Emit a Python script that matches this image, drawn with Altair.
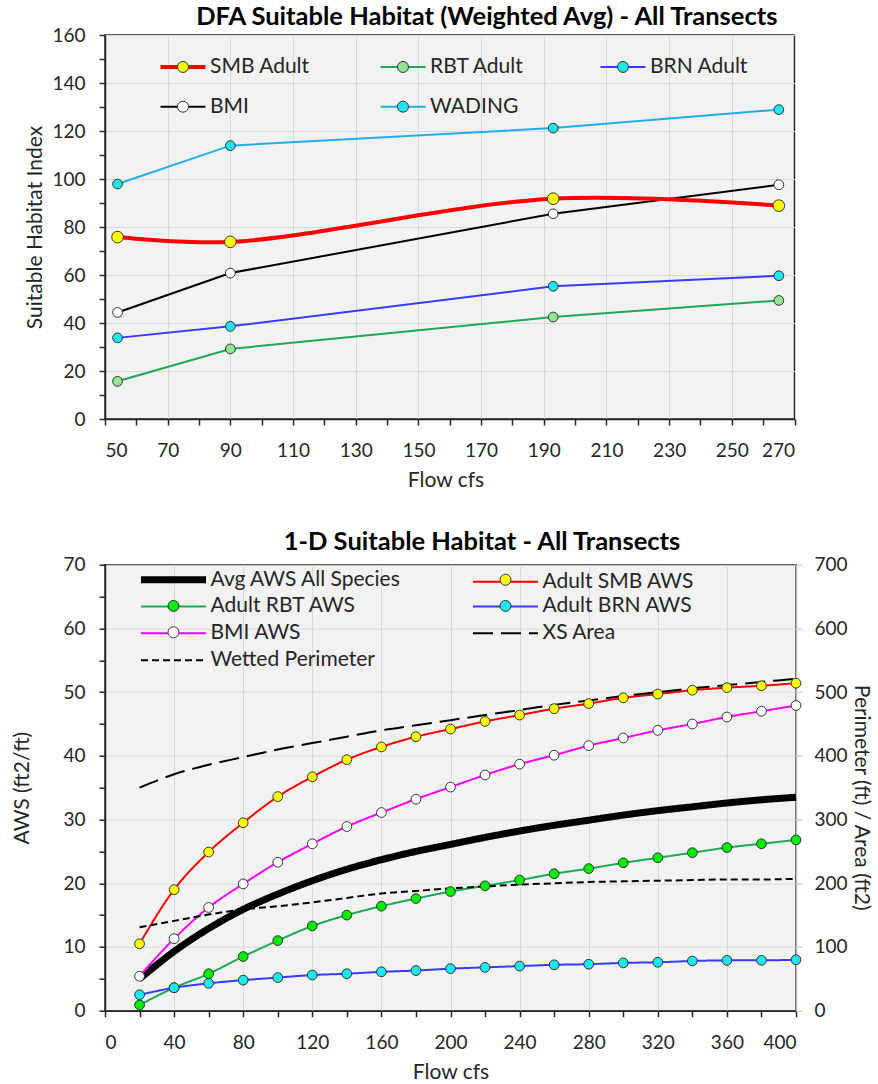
import altair as alt
import pandas as pd

FONT = "Lato"
INK = "#262626"
GRID = "#d9d9d9"
TICK_FS = 19
LEG_FS = 21
AXT_FS = 21
TITLE_FS = 25.5

# ---------------- DFA suitable habitat (weighted average) ----------------
dfa_flow = [54, 90, 193, 265]
dfa_names = ["SMB Adult", "RBT Adult", "BRN Adult", "BMI", "WADING"]
dfa_smb = [75.8, 73.8, 91.8, 88.9]
dfa_rbt = [15.7, 29.2, 42.5, 49.4]
dfa_brn = [33.8, 38.6, 55.3, 59.7]
dfa_bmi = [44.4, 60.8, 85.5, 97.6]
dfa_wading = [97.9, 113.9, 121.2, 128.9]
dfa_line_colors = ["#ff0000", "#1fa855", "#3a3aff", "#000000", "#22aee8"]
dfa_line_widths = [4, 2, 2, 2, 2]
dfa_marker_fill = ["#ffff00", "#8fe88f", "#1ee6ee", "#ffffff", "#1ee6ee"]
# legend entries are laid out column by column (2 rows x 3 columns)
dfa_legend_order = ["SMB Adult", "BMI", "RBT Adult", "WADING", "BRN Adult"]

# ---------------- 1-D suitable habitat ----------------
aws_flow = list(range(20, 401, 20))
aws_names = ["Avg AWS All Species", "Adult SMB AWS", "Adult RBT AWS",
             "Adult BRN AWS", "BMI AWS", "XS Area", "Wetted Perimeter"]
aws_avg = [5.0, 9.3, 12.9, 15.9, 18.3, 20.4, 22.2, 23.7, 25.0, 26.1,
           27.2, 28.2, 29.1, 29.9, 30.7, 31.4, 32.0, 32.6, 33.1, 33.5]
aws_smb = [10.5, 19.0, 24.9, 29.5, 33.6, 36.7, 39.4, 41.4, 43.0, 44.2,
           45.4, 46.4, 47.4, 48.2, 49.1, 49.7, 50.3, 50.7, 51.0, 51.4]
aws_rbt = [0.9, 3.6, 5.8, 8.5, 11.0, 13.3, 15.0, 16.4, 17.6, 18.7,
           19.6, 20.5, 21.5, 22.3, 23.2, 24.0, 24.8, 25.6, 26.2, 26.8]
aws_brn = [2.5, 3.6, 4.3, 4.8, 5.2, 5.6, 5.8, 6.1, 6.3, 6.6,
           6.8, 7.0, 7.2, 7.3, 7.5, 7.6, 7.8, 7.9, 7.9, 8.0]
aws_bmi = [5.4, 11.3, 16.2, 19.9, 23.3, 26.2, 28.9, 31.1, 33.2, 35.1,
           37.0, 38.7, 40.1, 41.6, 42.8, 44.0, 45.0, 46.1, 47.0, 47.9]
xs_area = [350, 371, 386, 398, 410, 420, 430, 440, 448, 456,
           464, 472, 480, 487, 494, 500, 506, 511, 516, 521]
wetted_perim = [131, 141, 151, 159, 164, 170, 177, 184, 188, 192,
                195, 198, 200, 202, 203, 204, 205, 206, 206, 207]
aws_line_colors = ["#000000", "#ff0000", "#1fa855", "#3a3aff", "#ff00ff", "#000000", "#000000"]
aws_line_widths = [7, 2, 2, 2, 2, 2, 2]
aws_line_dash = [[1, 0], [1, 0], [1, 0], [1, 0], [1, 0], [20, 8], [7, 4]]
aws_marker_fill = ["#ffffff", "#ffff00", "#00ee00", "#1ee6ee", "#ffffff", "#ffffff", "#ffffff"]
aws_marker_show = [0, 1, 1, 1, 1, 0, 0]
# legend entries are laid out column by column (4 rows x 2 columns)
aws_legend_order = ["Avg AWS All Species", "Adult RBT AWS", "BMI AWS", "Wetted Perimeter",
                    "Adult SMB AWS", "Adult BRN AWS", "XS Area"]


def long_table(names, xs, columns):
    rows = []
    for name, vals in zip(names, columns):
        for x, v in zip(xs, vals):
            rows.append({"flow": x, "value": v, "series": name})
    return pd.DataFrame(rows)


def reorder(order, names, values):
    lookup = dict(zip(names, values))
    return [lookup[n] for n in order]


dfa = long_table(dfa_names, dfa_flow, [dfa_smb, dfa_rbt, dfa_brn, dfa_bmi, dfa_wading])
aws = long_table(aws_names[:5], aws_flow, [aws_avg, aws_smb, aws_rbt, aws_brn, aws_bmi])
geom = long_table(aws_names[5:], aws_flow, [xs_area, wetted_perim])
aws_pts = aws[aws["series"] != "Avg AWS All Species"]

# ---------------- legend symbols (line + marker drawn as two stacked legends) ----------------
SYM_SIZE = 36
K = (SYM_SIZE ** 0.5) / 2  # path units -> px


def seg_path(length_px):
    h = length_px / 2 / K
    return f"M{-h:.3f},0L{h:.3f},0"


def dot_path(radius_px):
    r = radius_px / K
    return (f"M{-r:.3f},0A{r:.3f},{r:.3f},0,1,1,{r:.3f},0"
            f"A{r:.3f},{r:.3f},0,1,1,{-r:.3f},0Z")


def legend(path, x, y, cols, sym_off, lab_off, col_pad, row_pad, labels, z, **extra):
    return alt.Legend(
        title=None, orient="none", legendX=x, legendY=y, columns=cols,
        symbolType=path, symbolSize=SYM_SIZE, symbolOffset=sym_off,
        labelOffset=lab_off, columnPadding=col_pad, rowPadding=row_pad,
        gridAlign="all", padding=0, labelFont=FONT, labelFontSize=LEG_FS,
        labelColor=INK, labelOpacity=1 if labels else 0, labelLimit=400,
        zindex=z, **extra)


def cond(test, a, b):
    return {"condition": {"test": test, "value": a}, "value": b}


def axis(values, start, label_every, grid_every, **kw):
    args = dict(
        values=values,
        labelExpr=f"(datum.value - {start}) % {label_every} === 0 ? datum.label : ''",
        gridOpacity=cond(f"(datum.value - {start}) % {grid_every} === 0", 1, 0),
        gridColor=GRID, gridWidth=1, tickSize=6, tickColor=INK, tickWidth=1.5,
        domainColor=INK, domainWidth=1.5, labelFont=FONT, labelFontSize=TICK_FS,
        labelColor=INK, titleFont=FONT, titleFontSize=AXT_FS, titleColor=INK,
        titleFontWeight="normal", labelOverlap=False,
    )
    args.update(kw)
    return alt.Axis(**args)


# ---------------- top panel ----------------
top_x = alt.X("flow:Q", scale=alt.Scale(domain=[50, 270], nice=False, zero=False),
              axis=axis(list(range(50, 271, 10)), 50, 20, 20, title="Flow cfs",
                        labelPadding=16.5, titlePadding=9, titleX=340.5))
top_y = alt.Y("value:Q", scale=alt.Scale(domain=[0, 160], nice=False),
              axis=axis(list(range(0, 161, 10)), 0, 20, 20, title="Suitable Habitat Index",
                        labelPadding=14, titleX=-69.5, titleBaseline="middle"))

top_line_leg = legend(seg_path(45), 49.5, 21.2, 3, 18, 16.5, 64, 18, True, 1)
top_dot_leg = legend(dot_path(5.5), 49.5, 21.2, 3, 18, 16.5, 64, 18, False, 2,
                     symbolStrokeColor="#333333", symbolStrokeWidth=1)

top_stroke = alt.Stroke("series:N", scale=alt.Scale(
    domain=dfa_legend_order,
    range=reorder(dfa_legend_order, dfa_names, dfa_line_colors)), legend=top_line_leg)
top_width = alt.StrokeWidth("series:N", scale=alt.Scale(
    type="ordinal", domain=dfa_legend_order,
    range=reorder(dfa_legend_order, dfa_names, dfa_line_widths)), legend=top_line_leg)
dot_domain = dfa_legend_order + [" "]
top_fill = alt.Fill("series:N", scale=alt.Scale(
    domain=dot_domain,
    range=reorder(dfa_legend_order, dfa_names, dfa_marker_fill) + ["#ffffff"]),
    legend=top_dot_leg)
top_opac = alt.Opacity("series:N", scale=alt.Scale(
    type="ordinal", domain=dot_domain, range=[1, 1, 1, 1, 1, 0]), legend=top_dot_leg)

top_base = alt.Chart(dfa)
top_lines = top_base.transform_filter("datum.series != 'SMB Adult'").mark_line().encode(
    x=top_x, y=top_y, stroke=top_stroke, strokeWidth=top_width)
top_smb = top_base.transform_filter("datum.series == 'SMB Adult'").mark_line(
    interpolate="catmull-rom").encode(x=top_x, y=top_y, stroke=top_stroke, strokeWidth=top_width)
top_pts = top_base.mark_circle(stroke="#333333", strokeWidth=1).encode(
    x=top_x, y=top_y, fill=top_fill, opacity=top_opac,
    size=alt.condition("datum.series == 'SMB Adult'", alt.value(135), alt.value(95)))

top = alt.layer(top_lines, top_smb, top_pts).properties(
    width=689.5, height=384,
    title=alt.Title("DFA Suitable Habitat (Weighted Avg) - All Transects", font=FONT,
                    fontSize=TITLE_FS, fontWeight="bold", color="#000000", dx=37,
                    offset=-4.7, frame="group"))

# ---------------- bottom panel ----------------
bot_x = alt.X("flow:Q", scale=alt.Scale(domain=[0, 400], nice=False),
              axis=axis(list(range(0, 401, 20)), 0, 40, 40, title="Flow cfs",
                        labelPadding=16.5, titlePadding=9))
left_scale = alt.Scale(domain=[0, 70], nice=False)
bot_y = alt.Y("value:Q", scale=left_scale,
              axis=axis([v / 2 for v in range(0, 141, 10)], 0, 10, 10, title="AWS (ft2/ft)",
                        labelPadding=14, titleX=-82.5, titleBaseline="middle"))

bot_line_leg = legend(seg_path(65), 27, 4.3, 2, 31, 26.5, 62, 0.9, True, 1)
bot_dot_leg = legend(dot_path(5.5), 27, 4.3, 2, 31, 26.5, 62, 4.4, False, 2,
                     symbolStrokeColor="#333333", symbolStrokeWidth=1)

bot_stroke = alt.Stroke("series:N", scale=alt.Scale(
    domain=aws_legend_order,
    range=reorder(aws_legend_order, aws_names, aws_line_colors)), legend=bot_line_leg)
bot_width = alt.StrokeWidth("series:N", scale=alt.Scale(
    type="ordinal", domain=aws_legend_order,
    range=reorder(aws_legend_order, aws_names, aws_line_widths)), legend=bot_line_leg)
bot_dash = alt.StrokeDash("series:N", scale=alt.Scale(
    domain=aws_legend_order,
    range=reorder(aws_legend_order, aws_names, aws_line_dash)), legend=bot_line_leg)
bot_dot_domain = aws_legend_order + [" "]
bot_fill = alt.Fill("series:N", scale=alt.Scale(
    domain=bot_dot_domain,
    range=reorder(aws_legend_order, aws_names, aws_marker_fill) + ["#ffffff"]),
    legend=bot_dot_leg)
bot_opac = alt.Opacity("series:N", scale=alt.Scale(
    type="ordinal", domain=bot_dot_domain,
    range=reorder(aws_legend_order, aws_names, aws_marker_show) + [0]), legend=bot_dot_leg)

bot_lines = alt.Chart(aws).mark_line(interpolate="monotone").encode(
    x=bot_x, y=bot_y, stroke=bot_stroke, strokeWidth=bot_width, strokeDash=bot_dash)
bot_geom = alt.Chart(geom).mark_line(interpolate="monotone").encode(
    x=bot_x,
    y=alt.Y("value:Q", scale=alt.Scale(domain=[0, 700], nice=False),
            axis=alt.Axis(orient="right", values=list(range(0, 701, 100)), grid=False,
                          tickSize=6, tickColor="#bfbfbf", domainColor="#bfbfbf",
                          domainWidth=1.5, labelPadding=12, labelFont=FONT,
                          labelFontSize=TICK_FS, labelColor=INK,
                          title="Perimeter (ft) / Area (ft2)", titleFont=FONT,
                          titleFontSize=AXT_FS, titleColor=INK, titleFontWeight="normal",
                          titleAngle=90, titleX=64, titleY=232.5, titleBaseline="middle")),
    stroke=bot_stroke, strokeWidth=bot_width, strokeDash=bot_dash)
bot_pts = alt.Chart(aws_pts).mark_circle(stroke="#333333", strokeWidth=1, size=95).encode(
    x=bot_x, y=alt.Y("value:Q", scale=left_scale, axis=None),
    fill=bot_fill, opacity=bot_opac)

bottom = alt.layer(bot_lines, bot_geom, bot_pts).resolve_scale(y="independent").properties(
    width=691, height=446,
    title=alt.Title("1-D Suitable Habitat - All Transects", font=FONT, fontSize=TITLE_FS,
                    fontWeight="bold", color="#000000", dx=31.5, offset=0, frame="group"))

chart = alt.vconcat(top, bottom, spacing=36.7).resolve_scale(
    stroke="independent", strokeWidth="independent", strokeDash="independent",
    fill="independent", opacity="independent"
).resolve_legend(
    stroke="independent", strokeWidth="independent", strokeDash="independent",
    fill="independent", opacity="independent"
).properties(
    padding={"left": 10, "top": 4, "right": 0, "bottom": 0}
).configure_view(fill="#f2f2f2", stroke=INK, strokeWidth=1.5)

chart.save("out.html", embed_options={"renderer": "svg", "actions": False})
